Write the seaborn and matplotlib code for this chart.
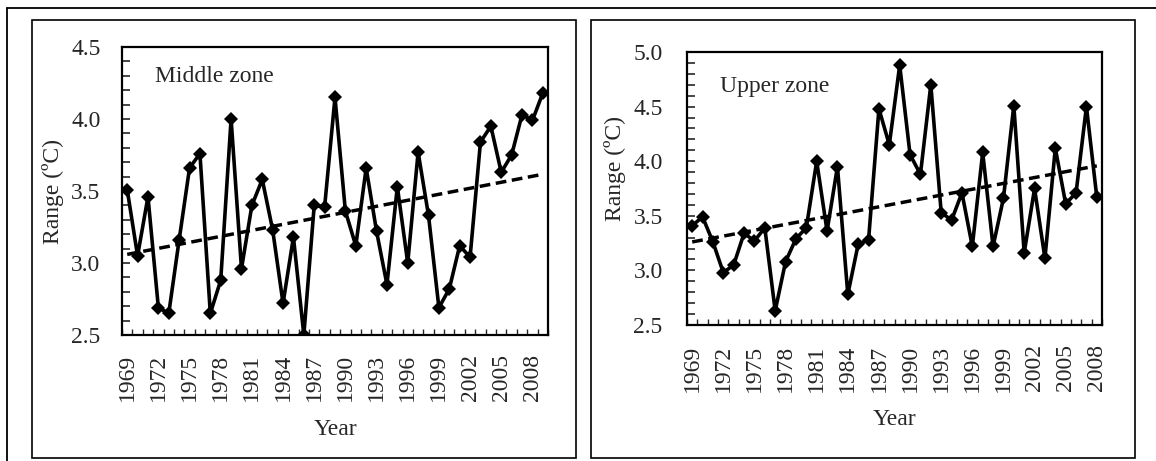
import numpy as np
import seaborn as sns
import matplotlib.pyplot as plt
from matplotlib.lines import Line2D
from matplotlib.patches import Rectangle
from matplotlib.ticker import MultipleLocator, FixedLocator

# Middle zone: 1969-2009
mid_years = list(range(1969, 2010))
mid_range = [3.51, 3.05, 3.46, 2.69, 2.65, 3.16, 3.66, 3.76, 2.65, 2.88,
             4.00, 2.96, 3.40, 3.58, 3.23, 2.72, 3.18, 2.50, 3.40, 3.39,
             4.15, 3.36, 3.12, 3.66, 3.22, 2.85, 3.53, 3.00, 3.77, 3.33,
             2.69, 2.82, 3.12, 3.04, 3.84, 3.95, 3.63, 3.75, 4.03, 3.99,
             4.18]

# Upper zone: 1969-2008
up_years = list(range(1969, 2009))
up_range = [3.41, 3.49, 3.26, 2.98, 3.05, 3.34, 3.27, 3.39, 2.63, 3.08,
            3.29, 3.39, 4.00, 3.36, 3.95, 2.78, 3.24, 3.28, 4.48, 4.15,
            4.88, 4.06, 3.88, 4.70, 3.53, 3.46, 3.71, 3.22, 4.08, 3.22,
            3.66, 4.51, 3.16, 3.75, 3.11, 4.12, 3.61, 3.71, 4.50, 3.67]

tick_years = list(range(1969, 2009, 3))

sns.set_style("white")
plt.rcParams['font.family'] = ['Liberation Serif', 'DejaVu Serif']
FS = 17

W, H = 1156, 461
fig = plt.figure(figsize=(W / 100, H / 100), dpi=100)


def px_box(x0, y0, x1, y1):
    # pixel box (top-left origin) -> figure fraction rect
    return [x0 / W, 1 - y1 / H, (x1 - x0) / W, (y1 - y0) / H]


# outer frame (only top and left edges show)
fig.add_artist(Line2D([7 / W, 7 / W], [0, 1 - 8 / H], color='black', lw=1.3,
                      transform=fig.transFigure))
fig.add_artist(Line2D([7 / W, 1], [1 - 8 / H, 1 - 8 / H], color='black', lw=1.3,
                      transform=fig.transFigure))
# panel boxes
for x0, x1 in [(32, 576), (591, 1135)]:
    r = px_box(x0, 20, x1, 458)
    fig.add_artist(Rectangle((r[0], r[1]), r[2], r[3], fill=False, ec='black',
                             lw=1.2, transform=fig.transFigure))

ax1 = fig.add_axes(px_box(122, 47, 548, 335))
ax2 = fig.add_axes(px_box(687, 52, 1102, 325))

panels = [
    (ax1, mid_years, mid_range, (2.5, 4.5), "Middle zone", (0.0775, 0.896),
     (-0.136, 0.5), -0.292, 13.5, 15.5),
    (ax2, up_years, up_range, (2.5, 5.0), "Upper zone", (0.0795, 0.873),
     (-0.147, 0.575), -0.308, 14.0, 17.5),
]

for ax, years, vals, ylim, name, tpos, ylab, xlab_y, xpad, ypad in panels:
    idx = np.arange(len(years))
    sns.lineplot(x=idx, y=vals, ax=ax, color='black', lw=2.6, marker='D',
                 markersize=7, markeredgewidth=0)
    sns.regplot(x=idx, y=vals, ax=ax, scatter=False, ci=None, truncate=True,
                line_kws=dict(color='black', lw=2.5, ls=(0, (3.1, 1.6))))

    ax.set_xlim(-0.5, len(years) - 0.5)
    ax.set_ylim(*ylim)

    pos = [years.index(y) for y in tick_years]
    ax.xaxis.set_major_locator(FixedLocator(pos))
    ax.set_xticklabels([str(y) for y in tick_years], rotation=90, fontsize=FS)
    ax.xaxis.set_minor_locator(FixedLocator(np.arange(-0.5, len(years), 1.0)))
    ax.tick_params(axis='x', which='major', length=0, pad=xpad)
    ax.tick_params(axis='x', which='minor', direction='in', length=4, width=1,
                   bottom=True)

    ax.yaxis.set_major_locator(MultipleLocator(0.5))
    ax.yaxis.set_minor_locator(MultipleLocator(0.1))
    ax.yaxis.set_major_formatter(plt.FormatStrFormatter('%.1f'))
    ax.tick_params(axis='y', which='both', direction='in', length=6, width=1.2,
                   left=True, labelsize=FS, pad=ypad)

    for s in ax.spines.values():
        s.set_visible(True)
        s.set_color('black')
        s.set_linewidth(1.6)

    ax.set_ylabel("Range (ºC)", fontsize=FS)
    ax.yaxis.set_label_coords(*ylab)
    ax.set_xlabel("Year", fontsize=FS)
    ax.xaxis.set_label_coords(0.5, xlab_y)

    ax.text(tpos[0], tpos[1], name, transform=ax.transAxes, fontsize=FS,
            ha='left', va='center')

fig.savefig("out.png", dpi=100)
